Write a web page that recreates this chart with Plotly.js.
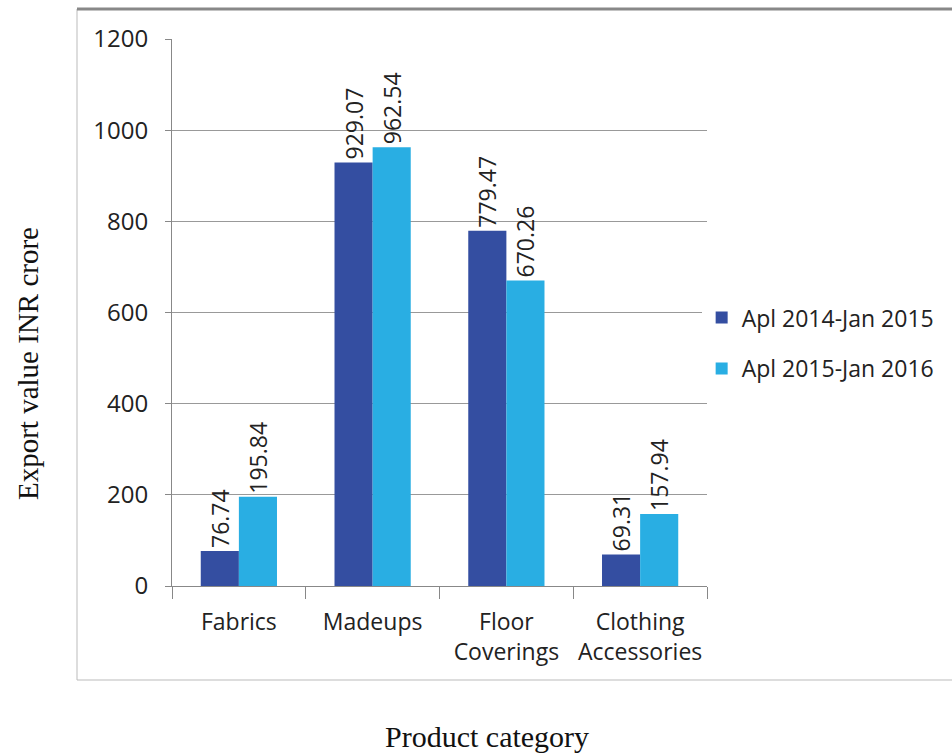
<!DOCTYPE html>
<html>
<head>
<meta charset="utf-8">
<script src="https://cdn.plot.ly/plotly-3.0.1.min.js"></script>
<style>html,body{margin:0;padding:0;background:#fff}#chart{width:952px;height:753px}</style>
</head>
<body>
<div id="chart"></div>
<script>
const categories = ["Fabrics", "Madeups", "Floor<br>Coverings", "Clothing<br>Accessories"];
const series1Name = "Apl 2014-Jan 2015";
const series1Values = [76.74, 929.07, 779.47, 69.31];
const series2Name = "Apl 2015-Jan 2016";
const series2Values = [195.84, 962.54, 670.26, 157.94];
const yTickValues = [0, 200, 400, 600, 800, 1000, 1200];

const sans = "Open Sans, sans-serif";
const serif = "Liberation Serif, Times New Roman, serif";
const labelFont = {family: sans, size: 23, color: "#222"};

const traces = [
  {type: "bar", name: series1Name, x: categories, y: series1Values,
   marker: {color: "#344ea1"}, text: series1Values.map(v => v.toFixed(2) + "\u00a0"),
   textposition: "outside", textangle: -90, textfont: labelFont, cliponaxis: false,
   constraintext: "none", legendgroup: "a", hoverinfo: "x+y"},
  {type: "bar", name: series2Name, x: categories, y: series2Values,
   marker: {color: "#29aee3"}, text: series2Values.map(v => v.toFixed(2) + "\u00a0"),
   textposition: "outside", textangle: -90, textfont: labelFont, cliponaxis: false,
   constraintext: "none", legendgroup: "b", hoverinfo: "x+y"}
];

const layout = {
  width: 952, height: 753,
  margin: {l: 172, r: 245, t: 39, b: 167},
  paper_bgcolor: "#fff", plot_bgcolor: "#fff",
  barmode: "group", bargap: 0.43, bargroupgap: 0,
  showlegend: true,
  legend: {x: 0.99, xanchor: "left", y: 0.53, yanchor: "top",
           font: {family: sans, size: 23, color: "#222"},
           traceorder: "grouped", tracegroupgap: 18, itemwidth: 30},
  xaxis: {type: "category", showline: true, linecolor: "#888", linewidth: 1,
          ticks: "outside", tickson: "boundaries", ticklen: 12, tickcolor: "#888",
          ticklabelstandoff: 15, tickangle: 0,
          tickfont: {family: sans, size: 23, color: "#222"},
          showgrid: false, automargin: false},
  yaxis: {range: [0, 1200], tickvals: yTickValues, showline: true, linecolor: "#888",
          ticks: "outside", ticklen: 6, tickcolor: "#888", ticklabelstandoff: 12,
          gridcolor: "#999", gridwidth: 1, zeroline: false,
          tickfont: {family: sans, size: 24, color: "#222"},
          automargin: false},
  annotations: [
    {text: "Export value INR crore", xref: "paper", yref: "paper",
     x: (28 - 172) / 535, y: (586 - 364) / 547, xanchor: "center", yanchor: "middle",
     textangle: -90, showarrow: false,
     font: {family: serif, size: 29, color: "#111"}},
    {text: "Product category", xref: "paper", yref: "paper",
     x: (487 - 172) / 535, y: (586 - 736) / 547, xanchor: "center", yanchor: "middle",
     showarrow: false,
     font: {family: serif, size: 30, color: "#111"}}
  ],
  shapes: [
    {type: "rect", xref: "paper", yref: "paper",
     x0: (77 - 172) / 535, x1: (960 - 172) / 535,
     y0: (586 - 680) / 547, y1: (586 - 9) / 547,
     line: {color: "#bbb", width: 1}, layer: "below"},
    {type: "line", xref: "paper", yref: "paper",
     x0: (77 - 172) / 535, x1: (960 - 172) / 535,
     y0: (586 - 9) / 547, y1: (586 - 9) / 547,
     line: {color: "#888", width: 3}}
  ]
};

Plotly.newPlot("chart", traces, layout, {displayModeBar: false, staticPlot: true});
</script>
</body>
</html>
